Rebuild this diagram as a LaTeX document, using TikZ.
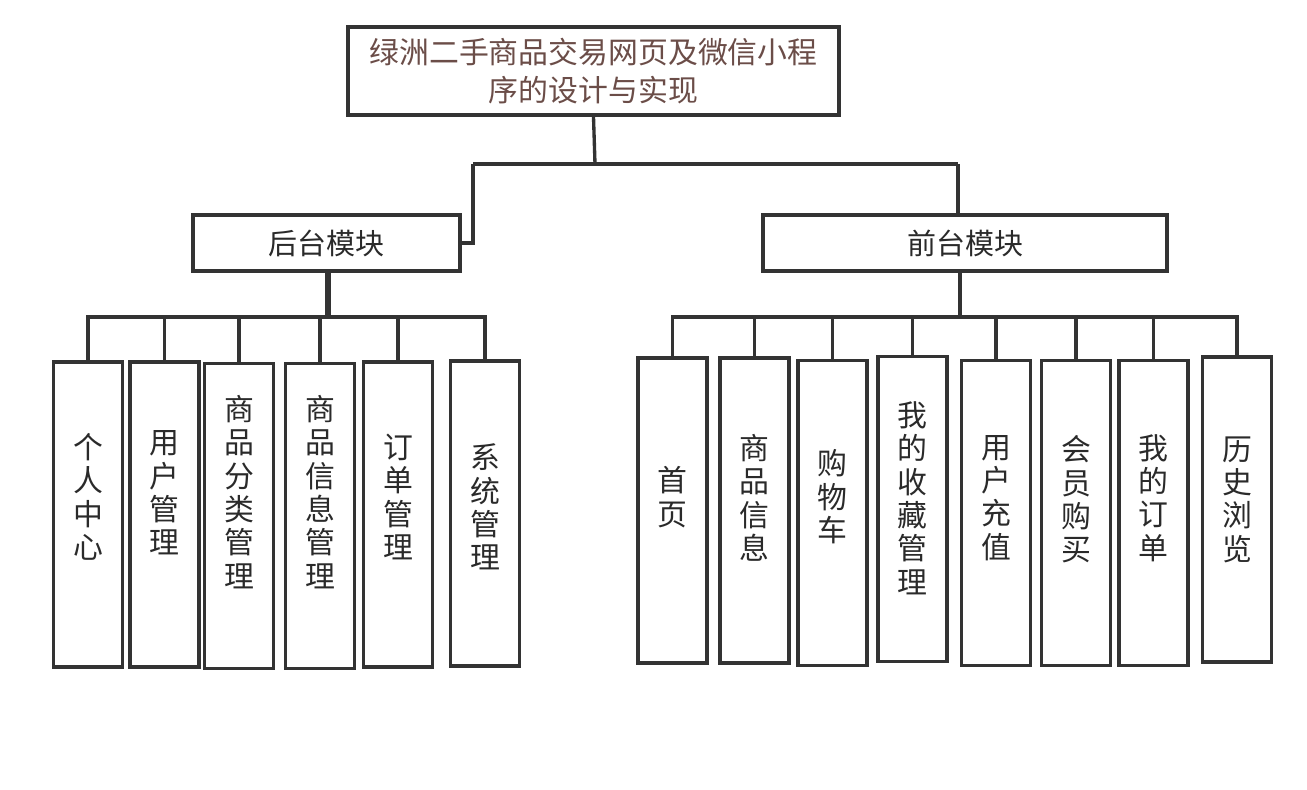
\documentclass[tikz,border=0pt]{standalone}
\usepackage{fontspec}
\setmainfont{Noto Sans CJK SC}
\definecolor{linegray}{HTML}{333333}
\definecolor{titlebrown}{HTML}{6B4D48}
\definecolor{textgray}{HTML}{2A2A2A}

\begin{document}
\begin{tikzpicture}[
  box/.style={draw=linegray,line width=1.9pt,rectangle,inner sep=0pt},
  leaf/.style={box,minimum width=1.38cm,minimum height=6.1cm},
  module/.style={box,minimum height=1.12cm,text=textgray,font=\fontsize{16.5}{20}\selectfont},
  vtext/.style={align=center,inner sep=0pt,text=textgray,font=\fontsize{17}{19}\selectfont},
  link/.style={draw=linegray,line width=1.9pt}]
\useasboundingbox (0,0) rectangle (26.14,-15.8);

% title and the two modules
\node[box,minimum width=9.82cm,minimum height=1.76cm,align=center,text=titlebrown,font=\fontsize{17}{22}\selectfont] (title) at (11.87,-1.42) {绿洲二手商品交易网页及微信小程\\序的设计与实现};
\node[module,minimum width=5.34cm] (back) at (6.53,-4.86) {后台模块};
\node[module,minimum width=8.08cm] (front) at (19.3,-4.86) {前台模块};

% backend leaves
\node[leaf] (b1) at (1.76,-10.29) {};
\node[leaf] (b2) at (3.29,-10.29) {};
\node[leaf] (b3) at (4.78,-10.32) {};
\node[leaf] (b4) at (6.4,-10.32) {};
\node[leaf] (b5) at (7.96,-10.29) {};
\node[leaf] (b6) at (9.7,-10.27) {};
\node[vtext] (b1t) at (1.76,-9.94) {个\\人\\中\\心};
\node[vtext] (b2t) at (3.29,-9.86) {用\\户\\管\\理};
\node[vtext] (b3t) at (4.78,-9.84) {商\\品\\分\\类\\管\\理};
\node[vtext] (b4t) at (6.4,-9.84) {商\\品\\信\\息\\管\\理};
\node[vtext] (b5t) at (7.96,-9.94) {订\\单\\管\\理};
\node[vtext] (b6t) at (9.7,-10.14) {系\\统\\管\\理};

% frontend leaves
\node[leaf] (f1) at (13.45,-10.21) {};
\node[leaf] (f2) at (15.09,-10.21) {};
\node[leaf] (f3) at (16.65,-10.26) {};
\node[leaf] (f4) at (18.25,-10.18) {};
\node[leaf] (f5) at (19.92,-10.26) {};
\node[leaf] (f6) at (21.52,-10.26) {};
\node[leaf] (f7) at (23.07,-10.26) {};
\node[leaf] (f8) at (24.74,-10.19) {};
\node[vtext] (f1t) at (13.45,-9.94) {首\\页};
\node[vtext] (f2t) at (15.09,-9.96) {商\\品\\信\\息};
\node[vtext] (f3t) at (16.65,-9.94) {购\\物\\车};
\node[vtext] (f4t) at (18.25,-9.96) {我\\的\\收\\藏\\管\\理};
\node[vtext] (f5t) at (19.92,-9.96) {用\\户\\充\\值};
\node[vtext] (f6t) at (21.52,-9.99) {会\\员\\购\\买};
\node[vtext] (f7t) at (23.07,-9.96) {我\\的\\订\\单};
\node[vtext] (f8t) at (24.74,-9.99) {历\\史\\浏\\览};

% junctions
\coordinate (top-j) at (11.9,-3.28);
\coordinate (back-j) at (9.46,-3.28);
\coordinate (front-j) at (19.16,-3.28);
\coordinate (back-bus) at (6.56,-6.34);
\coordinate (front-bus) at (19.2,-6.34);

\draw[link] (title.south) -- (top-j);
\draw[link] (back-j) -- (front-j);
\draw[link] (back-j) |- (back.east);
\draw[link] (front-j) -- (front-j |- front.north);

\draw[link,line width=3.5pt] (back-bus |- back.south) -- (back-bus);
\draw[link] (b1.north) |- (back-bus);
\draw[link] (b2.north) |- (back-bus);
\draw[link] (b3.north) |- (back-bus);
\draw[link] (b4.north) |- (back-bus);
\draw[link] (b5.north) |- (back-bus);
\draw[link] (b6.north) |- (back-bus);

\draw[link] (front-bus |- front.south) -- (front-bus);
\draw[link] (f1.north) |- (front-bus);
\draw[link] (f2.north) |- (front-bus);
\draw[link] (f3.north) |- (front-bus);
\draw[link] (f4.north) |- (front-bus);
\draw[link] (f5.north) |- (front-bus);
\draw[link] (f6.north) |- (front-bus);
\draw[link] (f7.north) |- (front-bus);
\draw[link] (f8.north) |- (front-bus);
\end{tikzpicture}
\end{document}
